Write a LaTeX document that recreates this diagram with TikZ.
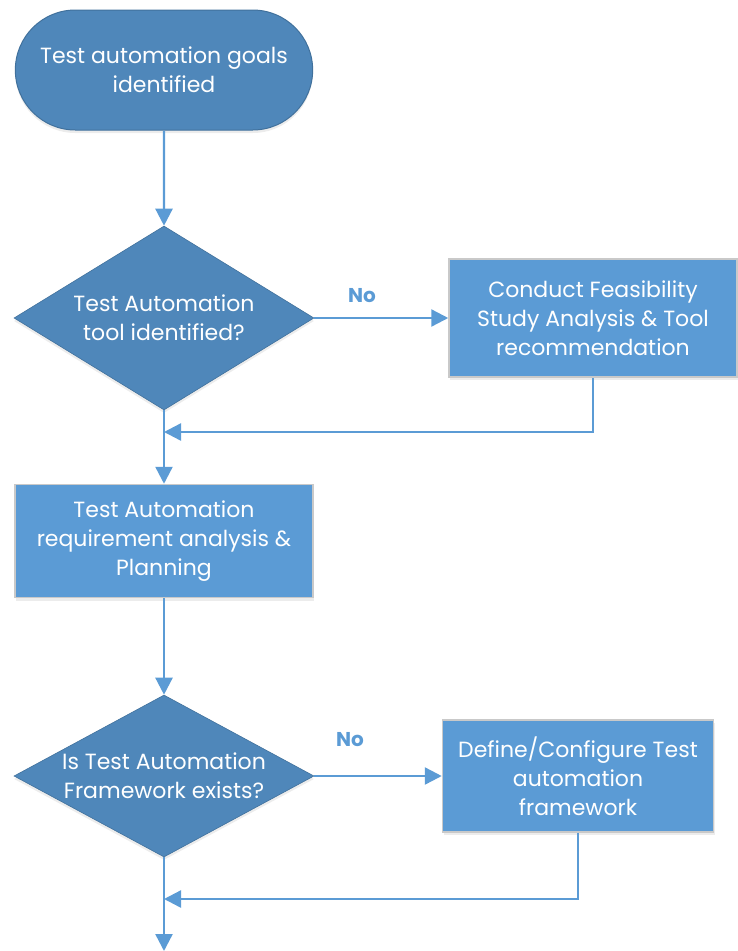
\documentclass[tikz,border=0pt]{standalone}
\usepackage{fontspec}
\setmainfont{Poppins}
\usepackage{tikz}
\usetikzlibrary{positioning,arrows.meta,shapes.geometric,shapes.misc,shadows}
\definecolor{darkfill}{HTML}{4F87BA}
\definecolor{darkline}{HTML}{41719C}
\definecolor{boxfill}{HTML}{5B9BD5}
\definecolor{boxline}{HTML}{C9C9C9}
\definecolor{flowblue}{HTML}{5B9BD5}

\begin{document}
\begin{tikzpicture}
		[x=1pt,y=-1pt,
		every node/.style={text=white,align=center,font=\fontsize{22}{29}\selectfont},
		terminal/.style={rounded rectangle,fill=darkfill,draw=darkline,line width=1pt,
			minimum width=304pt,minimum height=120pt,
			drop shadow={opacity=0.15,shadow xshift=0pt,shadow yshift=-3pt}},
		decision/.style={diamond,fill=darkfill,draw=darkline,line width=0.6pt,inner sep=0pt,
			aspect=1.63,minimum width=300pt,minimum height=184pt,
			drop shadow={opacity=0.15,shadow xshift=0pt,shadow yshift=-3pt}},
		process/.style={rectangle,fill=boxfill,draw=boxline,line width=1.5pt,inner sep=0pt,
			drop shadow={opacity=0.15,shadow xshift=1pt,shadow yshift=-3pt}},
		flow/.style={draw=flowblue,line width=2.4pt,-{Triangle[length=17pt,width=17pt]}},
		nolabel/.style={text=flowblue,font=\fontsize{20}{24}\selectfont\bfseries}]
		\useasboundingbox (0,0) rectangle (738,951);
		\node[terminal] (goals) at (164,70) {Test automation goals\\identified};
		\node[decision] (tooldec) at (164,318) {Test Automation\\tool identified?};
		\node[process,minimum width=288pt,minimum height=118pt] (feasib) at (593,318)
			{Conduct Feasibility\\Study Analysis \& Tool\\recommendation};
		\node[process,minimum width=298pt,minimum height=113pt] (reqplan) at (164,541)
			{Test Automation\\requirement analysis \&\\Planning};
		\node[decision,minimum height=162pt,aspect=1.85] (fwdec) at (164,776)
			{Is Test Automation\\Framework exists?};
		\node[process,minimum width=271pt,minimum height=112pt] (fwdef) at (578,776)
			{Define/Configure Test\\automation\\framework};
		\node[nolabel] (no1) at (362,296) {No};
		\node[nolabel] (no2) at (350,740) {No};
		\coordinate (join1) at (164,432);
		\coordinate (join2) at (164,899);
		\coordinate (exit) at (164,951);
		\draw[flow] (goals) -- (tooldec);
		\draw[flow] (tooldec) -- (feasib);
		\draw[flow] (feasib.south) |- (join1);
		\draw[flow] (tooldec) -- (reqplan);
		\draw[flow] (reqplan) -- (fwdec);
		\draw[flow] (fwdec) -- (fwdef);
		\draw[flow] (fwdef.south) |- (join2);
		\draw[flow] (fwdec) -- (exit);
\end{tikzpicture}
\end{document}
